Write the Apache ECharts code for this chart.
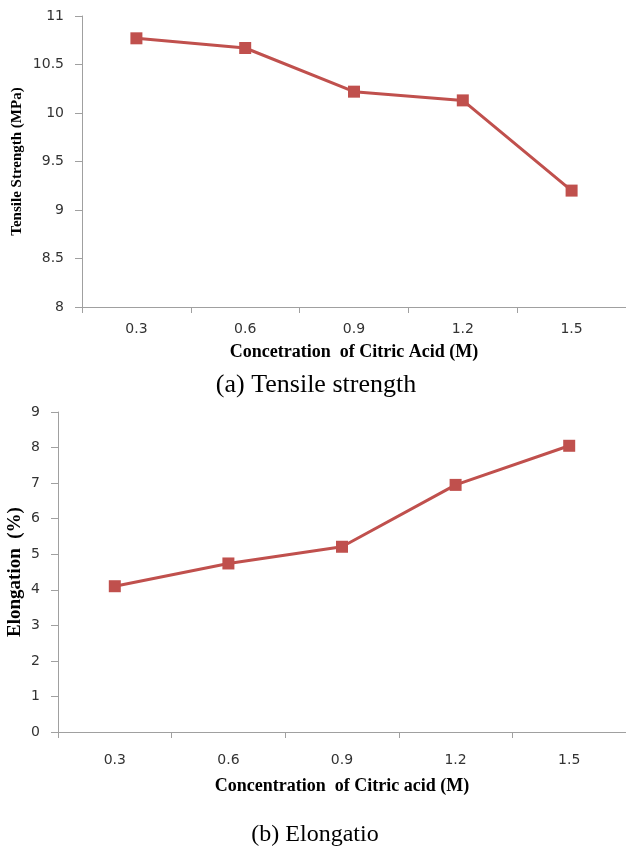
<!DOCTYPE html>
<html>
<head>
<meta charset="utf-8" />
<script src="https://cdn.jsdelivr.net/npm/echarts@6/dist/echarts.min.js"></script>
<style>
  html, body { margin: 0; padding: 0; background: #fff; }
  #chart { width: 626px; height: 846px; }
</style>
</head>
<body>
<div id="chart"></div>
<script>
// x categories shared by both panels
const concentrations = ["0.3", "0.6", "0.9", "1.2", "1.5"];

// (a) tensile strength, MPa
const tensileStrength = [10.77, 10.67, 10.22, 10.13, 9.2];

// (b) elongation, %
const elongation = [4.1, 4.74, 5.21, 6.95, 8.05];

const LINE_COLOR = "#c0504d";
const AXIS_COLOR = "#a0a0a0";
const TICK_FONT = "DejaVu Sans";
const NAME_FONT = "Liberation Serif";

const chart = echarts.init(document.getElementById("chart"), null, { renderer: "canvas" });

const boldName = (fontSize) => ({
  fontFamily: NAME_FONT,
  fontWeight: "bold",
  fontSize,
  color: "#000",
});

const xAxisFor = (gridIndex, name, nameGap, labelMargin) => ({
  type: "category",
  gridIndex,
  data: concentrations,
  boundaryGap: true,
  name,
  nameLocation: "middle",
  nameGap,
  nameMoveOverlap: false,
  nameTextStyle: boldName(18),
  axisLine: { lineStyle: { color: AXIS_COLOR, width: 1 } },
  axisTick: { show: true, length: 6, lineStyle: { color: AXIS_COLOR } },
  axisLabel: { margin: labelMargin, fontFamily: TICK_FONT, fontSize: 14, color: "#333" },
  splitLine: { show: false },
});

const yAxisFor = (gridIndex, name, min, max, interval, nameGap, nameSize) => ({
  type: "value",
  gridIndex,
  min,
  max,
  interval,
  name,
  nameLocation: "middle",
  nameGap,
  nameMoveOverlap: false,
  nameTextStyle: boldName(nameSize),
  axisLine: { show: true, lineStyle: { color: AXIS_COLOR, width: 1 } },
  axisTick: { show: true, length: 7, lineStyle: { color: AXIS_COLOR } },
  axisLabel: { margin: 18, fontFamily: TICK_FONT, fontSize: 14, color: "#333" },
  splitLine: { show: false },
});

const lineSeries = (index, data) => ({
  type: "line",
  xAxisIndex: index,
  yAxisIndex: index,
  data,
  symbol: "rect",
  symbolSize: 12,
  lineStyle: { color: LINE_COLOR, width: 3 },
  itemStyle: { color: LINE_COLOR },
  animation: false,
});

const captionStyle = (fontSize) => ({
  fontFamily: NAME_FONT,
  fontWeight: "normal",
  fontSize,
  color: "#000",
});

const option = {
  backgroundColor: "#fff",
  animation: false,
  title: [
    {
      text: "(a) Tensile strength",
      left: 316,
      top: 372,
      padding: 0,
      textAlign: "center",
      textStyle: captionStyle(26),
    },
    {
      text: "(b) Elongatio",
      left: 315,
      top: 823,
      padding: 0,
      textAlign: "center",
      textStyle: captionStyle(24),
    },
  ],
  grid: [
    { left: 82, right: 0, top: 16, height: 291, outerBoundsMode: "none", containLabel: false },
    { left: 58, right: 0, top: 412, height: 320, outerBoundsMode: "none", containLabel: false },
  ],
  xAxis: [
    xAxisFor(0, "Concetration  of Citric Acid (M)", 36, 15),
    xAxisFor(1, "Concentration  of Citric acid (M)", 45, 21),
  ],
  yAxis: [
    yAxisFor(0, "Tensile Strength (MPa)", 8, 11, 0.5, 57, 15),
    yAxisFor(1, "Elongation  (%)", 0, 9, 1, 33, 19),
  ],
  series: [lineSeries(0, tensileStrength), lineSeries(1, elongation)],
};

chart.setOption(option);
</script>
</body>
</html>
